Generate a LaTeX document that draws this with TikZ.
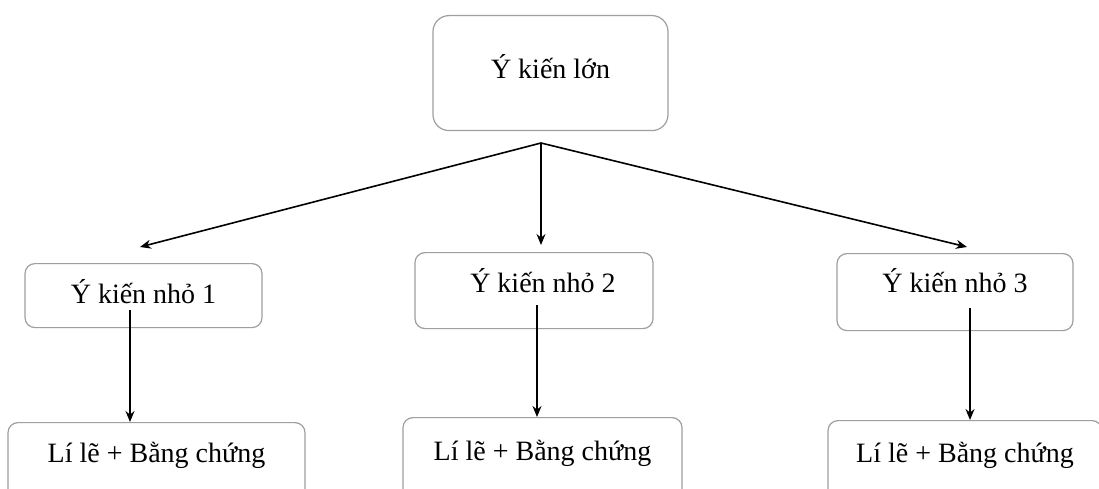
\documentclass[tikz,border=0pt]{standalone}
\usepackage{fontspec}
\setmainfont{Liberation Serif}
\usetikzlibrary{arrows.meta,calc}
\begin{document}
\begin{tikzpicture}[x=1pt,y=-1pt,
  box/.style={draw=gray!75, line width=1.2pt, rounded corners=10pt, inner xsep=0pt, inner ysep=0pt,
    anchor=north, font=\fontsize{28}{32}\selectfont},
  arr/.style={draw=black, line width=1.6pt, -{Stealth[length=11pt,width=9pt]}}]
\clip (0,0) rectangle (1099,489);
\fill[white] (0,0) rectangle (1099,489);
% top box
\node[box, rounded corners=16pt, minimum width=235pt, text height=63pt, text depth=52pt] (top) at (550.5,15) {Ý kiến lớn};
% middle level
\node[box, minimum width=237pt, text height=40pt, text depth=24pt] (m1) at (143.5,263) {Ý kiến nhỏ 1};
\node[box, minimum width=238pt, text height=40pt, text depth=36pt] (m2) at (534,252) {\hspace*{18pt}Ý kiến nhỏ 2};
\node[box, minimum width=236pt, text height=39pt, text depth=38pt] (m3) at (955,253) {Ý kiến nhỏ 3};
% bottom level
\node[box, minimum width=297pt, text height=40pt, text depth=70pt] (b1) at (156.5,422) {Lí lẽ + Bằng chứng};
\node[box, minimum width=279pt, text height=43pt, text depth=70pt] (b2) at (542.5,417) {Lí lẽ + Bằng chứng};
\node[box, minimum width=274pt, text height=42pt, text depth=70pt] (b3) at (965,420) {Lí lẽ + Bằng chứng};
% connector points
\coordinate (hub) at (541,143);
\coordinate (e1) at (140,247);
\coordinate (e2) at (541,245);
\coordinate (e3) at (967,247);
\coordinate (s1) at (130,310);
\coordinate (s2) at (537,305);
\coordinate (s3) at (970,308);
\draw[arr] (hub) -- (e1);
\draw[arr] (hub) -- (e2);
\draw[arr] (hub) -- (e3);
\draw[arr] (s1) -- (s1 |- b1.north);
\draw[arr] (s2) -- (s2 |- b2.north);
\draw[arr] (s3) -- (s3 |- b3.north);
\end{tikzpicture}
\end{document}
